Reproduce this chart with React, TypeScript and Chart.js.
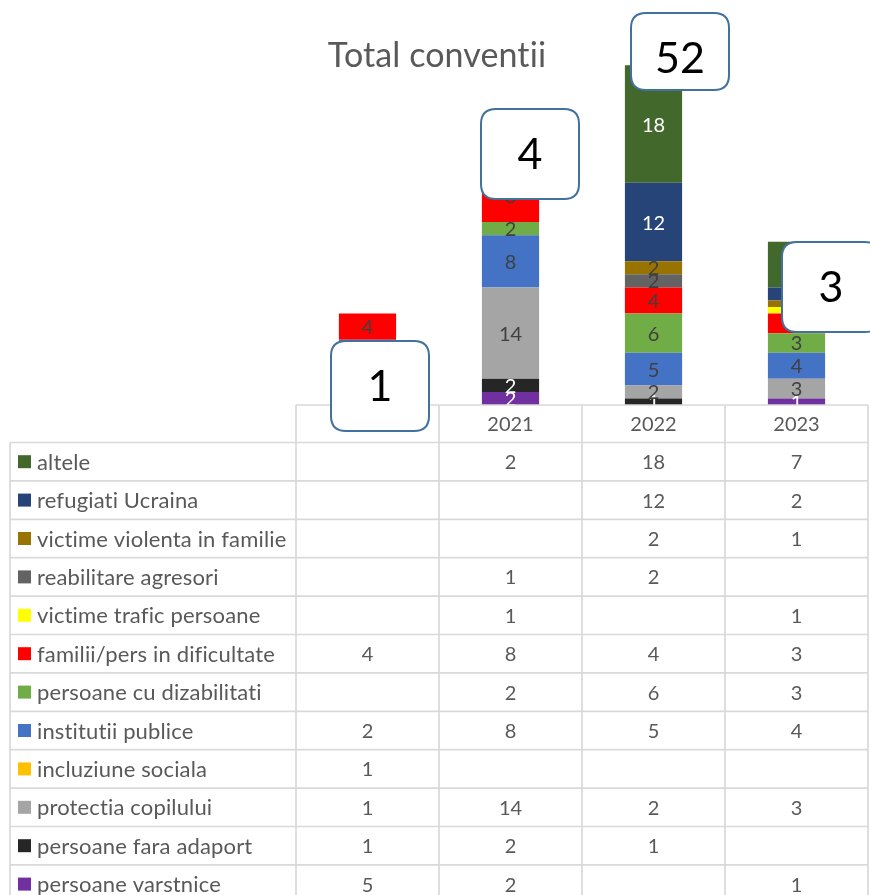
import { useEffect, useRef } from 'react';
import { Chart, registerables } from 'chart.js';

Chart.register(...registerables);

// ---- data ----
const categories = ['2020', '2021', '2022', '2023'];
const chartTitle = 'Total conventii';

const persoaneVarstnice = [5, 2, null, 1];
const persoaneFaraAdaport = [1, 2, 1, null];
const protectiaCopilului = [1, 14, 2, 3];
const incluziuneSociala = [1, null, null, null];
const institutiiPublice = [2, 8, 5, 4];
const persoaneCuDizabilitati = [null, 2, 6, 3];
const familiiInDificultate = [4, 8, 4, 3];
const victimeTraficPersoane = [null, 1, null, 1];
const reabilitareAgresori = [null, 1, 2, null];
const victimeViolentaInFamilie = [null, null, 2, 1];
const refugiatiUcraina = [null, null, 12, 2];
const altele = [null, 2, 18, 7];

const totalLabels = ['1', '4', '52', '3'];

// ---- styles ----
const seriesDefs = [
  { label: 'persoane varstnice', data: persoaneVarstnice, color: '#7030A0', text: '#FFFFFF' },
  { label: 'persoane fara adaport', data: persoaneFaraAdaport, color: '#262626', text: '#FFFFFF' },
  { label: 'protectia copilului', data: protectiaCopilului, color: '#A5A5A5', text: '#404040' },
  { label: 'incluziune sociala', data: incluziuneSociala, color: '#FFC000', text: '#404040' },
  { label: 'institutii publice', data: institutiiPublice, color: '#4472C4', text: '#404040' },
  { label: 'persoane cu dizabilitati', data: persoaneCuDizabilitati, color: '#70AD47', text: '#404040' },
  { label: 'familii/pers in dificultate', data: familiiInDificultate, color: '#FF0000', text: '#404040' },
  { label: 'victime trafic persoane', data: victimeTraficPersoane, color: '#FFFF00', text: '#404040' },
  { label: 'reabilitare agresori', data: reabilitareAgresori, color: '#636363', text: '#404040' },
  { label: 'victime violenta in familie', data: victimeViolentaInFamilie, color: '#997300', text: '#404040' },
  { label: 'refugiati Ucraina', data: refugiatiUcraina, color: '#264478', text: '#FFFFFF' },
  { label: 'altele', data: altele, color: '#43682B', text: '#FFFFFF' },
];

// callout boxes (offsets from bar centre / stack top)
const boxDx = [-36.5, -29.5, -22.5, -14.5];
const boxDy = [27.5, -34.7, -52.3, 0.3];
const boxH = [90, 90, 77, 90];
const boxW = 98;

const FONT = 'Lato, "Open Sans", sans-serif';
const GRID = '#D9D9D9';
const TEXT = '#595959';
const TABLE_LEFT = 10;
const HEADER_H = 37.5;
const ROW_H = 38.4;

function roundRect(ctx: CanvasRenderingContext2D, x: number, y: number, w: number, h: number, r: number) {
  ctx.beginPath();
  ctx.moveTo(x + r, y);
  ctx.lineTo(x + w - r, y);
  ctx.quadraticCurveTo(x + w, y, x + w, y + r);
  ctx.lineTo(x + w, y + h - r);
  ctx.quadraticCurveTo(x + w, y + h, x + w - r, y + h);
  ctx.lineTo(x + r, y + h);
  ctx.quadraticCurveTo(x, y + h, x, y + h - r);
  ctx.lineTo(x, y + r);
  ctx.quadraticCurveTo(x, y, x + r, y);
  ctx.closePath();
}

function setSpacing(ctx: any, v: string) {
  if ('letterSpacing' in ctx) ctx.letterSpacing = v;
}

const overlayPlugin = {
  id: 'overlay',
  afterDatasetsDraw(chart: any) {
    const ctx: CanvasRenderingContext2D = chart.ctx;
    ctx.save();
    ctx.font = `20px ${FONT}`;
    ctx.textAlign = 'center';
    ctx.textBaseline = 'middle';
    chart.data.datasets.forEach((ds: any, i: number) => {
      const meta = chart.getDatasetMeta(i);
      meta.data.forEach((el: any, j: number) => {
        const v = ds.data[j];
        if (v === null || v === undefined) return;
        ctx.fillStyle = seriesDefs[i].text;
        ctx.fillText(String(v), el.x, (el.y + el.base) / 2 + 1);
      });
    });
    ctx.restore();
  },
  afterDraw(chart: any) {
    const ctx: CanvasRenderingContext2D = chart.ctx;
    const xs = chart.scales.x;
    const ys = chart.scales.y;
    const area = chart.chartArea;
    const n = categories.length;
    const colW = (area.right - area.left) / n;
    const colLeft = (k: number) => area.left + k * colW;
    ctx.save();

    // title
    ctx.fillStyle = TEXT;
    ctx.font = `34px ${FONT}`;
    ctx.textAlign = 'center';
    ctx.textBaseline = 'alphabetic';
    setSpacing(ctx, '0.1px');
    ctx.fillText(chartTitle, chart.width / 2 + 2, 67);

    // table grid
    const headerTop = area.bottom;
    const rowsTop = headerTop + HEADER_H;
    const bottom = rowsTop + seriesDefs.length * ROW_H;
    ctx.strokeStyle = GRID;
    ctx.lineWidth = 1.7;
    ctx.beginPath();
    ctx.moveTo(area.left, headerTop);
    ctx.lineTo(area.right, headerTop);
    for (let r = 0; r <= seriesDefs.length; r++) {
      const y = rowsTop + r * ROW_H;
      ctx.moveTo(TABLE_LEFT, y);
      ctx.lineTo(area.right, y);
    }
    ctx.moveTo(TABLE_LEFT, rowsTop);
    ctx.lineTo(TABLE_LEFT, bottom);
    for (let k = 0; k <= n; k++) {
      ctx.moveTo(colLeft(k), headerTop);
      ctx.lineTo(colLeft(k), bottom);
    }
    ctx.stroke();

    // header labels
    setSpacing(ctx, '0px');
    ctx.font = `20px ${FONT}`;
    ctx.fillStyle = TEXT;
    ctx.textBaseline = 'middle';
    ctx.textAlign = 'center';
    categories.forEach((c, k) => {
      ctx.fillText(c, xs.getPixelForValue(k), headerTop + HEADER_H / 2 + 1);
    });

    // rows (top of stack first)
    const rows = [...seriesDefs].reverse();
    rows.forEach((s, r) => {
      const cy = rowsTop + r * ROW_H + ROW_H / 2;
      ctx.fillStyle = s.color;
      ctx.fillRect(18, cy - 6.5, 13, 13);
      ctx.fillStyle = TEXT;
      ctx.textAlign = 'left';
      ctx.font = `22px ${FONT}`;
      setSpacing(ctx, '0.15px');
      ctx.fillText(s.label, 37, cy + 1);
      setSpacing(ctx, '0px');
      ctx.textAlign = 'center';
      ctx.font = `20px ${FONT}`;
      s.data.forEach((v, k) => {
        if (v === null || v === undefined) return;
        ctx.fillText(String(v), xs.getPixelForValue(k), cy + 1);
      });
    });

    // total callouts
    categories.forEach((_, k) => {
      let total = 0;
      seriesDefs.forEach((s) => { total += s.data[k] || 0; });
      const cx = xs.getPixelForValue(k);
      const ty = ys.getPixelForValue(total);
      const bx = cx + boxDx[k];
      const by = ty + boxDy[k];
      roundRect(ctx, bx, by, boxW, boxH[k], 15);
      ctx.fillStyle = '#FFFFFF';
      ctx.fill();
      ctx.strokeStyle = '#41719C';
      ctx.lineWidth = 2;
      ctx.stroke();
      ctx.fillStyle = '#000000';
      ctx.font = `43px ${FONT}`;
      ctx.textAlign = 'center';
      ctx.textBaseline = 'middle';
      ctx.fillText(totalLabels[k], bx + boxW / 2, by + 46);
    });

    ctx.restore();
  },
};

export default function App() {
  const ref = useRef<HTMLCanvasElement | null>(null);
  useEffect(() => {
    if (!ref.current) return;
    const chart = new Chart(ref.current, {
      type: 'bar',
      data: {
        labels: categories,
        datasets: seriesDefs.map((s) => ({
          label: s.label,
          data: s.data as any,
          backgroundColor: s.color,
          borderWidth: 0,
          categoryPercentage: 1,
          barPercentage: 0.4,
        })),
      },
      options: {
        animation: false,
        responsive: true,
        maintainAspectRatio: false,
        layout: { padding: { left: 296, right: 2, top: 13, bottom: 490 } },
        plugins: { legend: { display: false }, title: { display: false }, tooltip: { enabled: false } },
        scales: {
          x: { stacked: true, display: false, offset: true, grid: { display: false } },
          y: { stacked: true, display: false, min: 0, max: 60, grid: { display: false } },
        },
      },
      plugins: [overlayPlugin],
    });
    return () => chart.destroy();
  }, []);
  return (
    <div style={{ position: 'fixed', left: 0, top: 0, width: 870, height: 895, background: '#fff' }}>
      <canvas ref={ref} />
    </div>
  );
}
